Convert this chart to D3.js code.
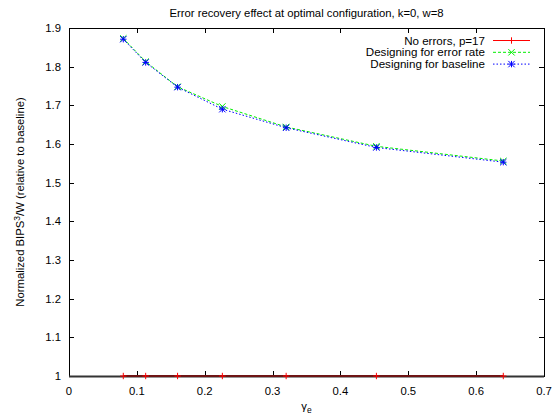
<!DOCTYPE html>
<html><head><meta charset="utf-8">
<script src="https://cdn.jsdelivr.net/npm/d3@7"></script>
<style>body{margin:0;background:#fff}svg{display:block}text{font-family:"Liberation Sans",Arial,sans-serif}</style>
</head><body><svg id="c" width="553" height="418"></svg>
<script>
const gammaE = [0.08, 0.113, 0.16, 0.226, 0.32, 0.453, 0.64];
const noErrors = [1, 1, 1, 1, 1, 1, 1];
const designErrorRate = [1.873, 1.813, 1.748, 1.697, 1.644, 1.594, 1.556];
const designBaseline = [1.871, 1.811, 1.747, 1.690, 1.642, 1.591, 1.553];
const xTicks = [0, 0.1, 0.2, 0.3, 0.4, 0.5, 0.6, 0.7];
const yTicks = [1, 1.1, 1.2, 1.3, 1.4, 1.5, 1.6, 1.7, 1.8, 1.9];
const seriesNames = ["No errors, p=17", "Designing for error rate", "Designing for baseline"];

const svg = d3.select("#c");
const L = 69, R = 544, T = 28, B = 376;
const x = d3.scaleLinear().domain([0, 0.7]).range([L, R]);
const y = d3.scaleLinear().domain([1, 1.9]).range([B, T]);
const FS = 11.3;

svg.append("text").attr("x", (L + R) / 2).attr("y", 17).attr("text-anchor", "middle")
  .attr("font-size", FS).text("Error recovery effect at optimal configuration, k=0, w=8");

// ticks (inward, mirrored)
const tl = 5;
const g = svg.append("g").attr("stroke", "#000").attr("stroke-width", 1);
xTicks.forEach(t => {
  const px = Math.round(x(t)) + 0.5;
  g.append("line").attr("x1", px).attr("x2", px).attr("y1", B).attr("y2", B - tl);
  g.append("line").attr("x1", px).attr("x2", px).attr("y1", T).attr("y2", T + tl);
});
yTicks.forEach(t => {
  const py = Math.round(y(t)) + 0.5;
  g.append("line").attr("x1", L).attr("x2", L + tl).attr("y1", py).attr("y2", py);
  g.append("line").attr("x1", R).attr("x2", R - tl).attr("y1", py).attr("y2", py);
});
svg.append("rect").attr("x", L + 0.5).attr("y", T + 0.5).attr("width", R - L).attr("height", B - T)
  .attr("fill", "none").attr("stroke", "#000").attr("stroke-width", 1);
svg.append("line").attr("x1", L).attr("x2", R).attr("y1", B + 0.5).attr("y2", B + 0.5)
  .attr("stroke", "#333").attr("stroke-width", 2);

const fmt = d => d3.format("")(+d.toFixed(1));
xTicks.forEach(t => svg.append("text").attr("x", x(t)).attr("y", 395).attr("text-anchor", "middle")
  .attr("font-size", FS).text(fmt(t)));
yTicks.forEach(t => svg.append("text").attr("x", 61).attr("y", y(t) + 4).attr("text-anchor", "end")
  .attr("font-size", FS).text(fmt(t)));

const xl = svg.append("text").attr("x", (L + R) / 2).attr("y", 410).attr("text-anchor", "middle").attr("font-size", FS);
xl.append("tspan").text("γ");
xl.append("tspan").attr("font-size", 8.5).attr("dy", 3).text("e");

const yl = svg.append("text").attr("transform", "translate(24,202) rotate(-90)").attr("text-anchor", "middle").attr("font-size", FS);
yl.append("tspan").text("Normalized BIPS");
yl.append("tspan").attr("font-size", 8.5).attr("dy", -4).text("3");
yl.append("tspan").attr("dy", 4).text("/W (relative to baseline)");

const line = d3.line().x((d, i) => x(gammaE[i])).y(d => y(d));
const S = 3.2;
function plus(sel, px, py, c) {
  sel.append("path").attr("d", `M${px - S},${py}H${px + S}M${px},${py - S}V${py + S}`).attr("stroke", c).attr("fill", "none");
}
function cross(sel, px, py, c) {
  sel.append("path").attr("d", `M${px - S},${py - S}L${px + S},${py + S}M${px - S},${py + S}L${px + S},${py - S}`).attr("stroke", c).attr("fill", "none");
}
function star(sel, px, py, c) { plus(sel, px, py, c); cross(sel, px, py, c); }

const series = [
  {name: seriesNames[0], vals: noErrors, color: "#ff0000", lineColor: "#6e1414", dash: null, mark: plus, w: 2},
  {name: seriesNames[1], vals: designErrorRate, color: "#00ee00", lineColor: "#00ee00", dash: "3,2", mark: cross, w: 1},
  {name: seriesNames[2], vals: designBaseline, color: "#0000ff", lineColor: "#0000ff", dash: "1.5,2", mark: star, w: 1}
];
series.forEach(s => {
  svg.append("path").datum(s.vals).attr("d", line).attr("fill", "none").attr("stroke", s.lineColor)
    .attr("stroke-width", s.w).attr("stroke-dasharray", s.dash);
  const mg = svg.append("g");
  s.vals.forEach((v, i) => s.mark(mg, x(gammaE[i]), y(v), s.color));
});

// legend
series.forEach((s, i) => {
  const ly = 40.5 + i * 11.8;
  svg.append("text").attr("x", 485).attr("y", ly + 4).attr("text-anchor", "end").attr("font-size", 11.6).text(s.name);
  svg.append("line").attr("x1", 493).attr("x2", 530).attr("y1", ly).attr("y2", ly)
    .attr("stroke", s.color).attr("stroke-dasharray", s.dash);
  s.mark(svg, 511.5, ly, s.color);
});
</script></body></html>
